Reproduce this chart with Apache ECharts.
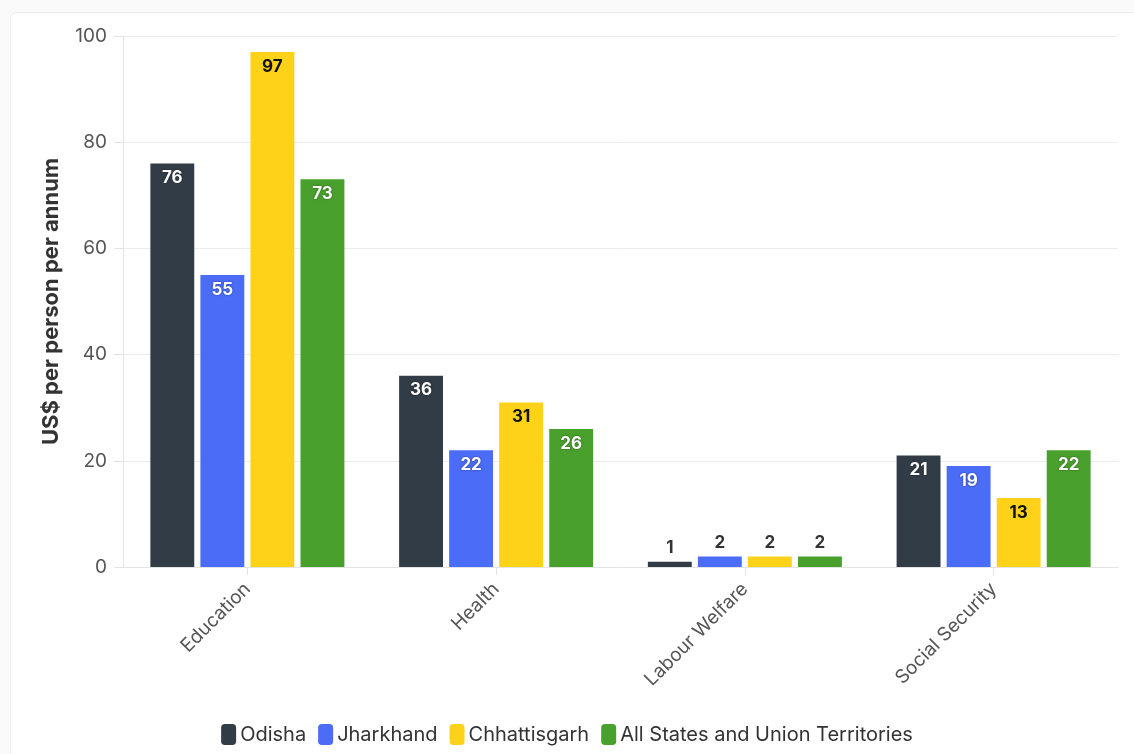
<!DOCTYPE html>
<html>
<head>
<meta charset="utf-8">
<script src="https://cdn.jsdelivr.net/npm/echarts@6/dist/echarts.min.js"></script>
<style>
  html, body { margin: 0; padding: 0; background: #fafafa; }
  #card { position: absolute; left: 10px; top: 12px; width: 1130px; height: 750px;
          background: #fff; border: 1px solid #eeeeee; border-radius: 6px; box-sizing: border-box; }
  #chart { position: absolute; left: 0; top: 0; width: 1134px; height: 754px; }
</style>
</head>
<body>
<div id="card"></div>
<div id="chart"></div>
<script>
// Spending categories and per-capita values (US$ per person per annum)
const categories = ['Education', 'Health', 'Labour Welfare', 'Social Security'];
const odisha = [76, 36, 1, 21];
const jharkhand = [55, 22, 2, 19];
const chhattisgarh = [97, 31, 2, 13];
const allStates = [73, 26, 2, 22];
const yTicks = [0, 20, 40, 60, 80, 100];

const seriesDefs = [
  { name: 'Odisha', values: odisha, color: '#323c46', labelColor: '#ffffff' },
  { name: 'Jharkhand', values: jharkhand, color: '#4a6cf7', labelColor: '#ffffff' },
  { name: 'Chhattisgarh', values: chhattisgarh, color: '#ffd21a', labelColor: '#111111' },
  { name: 'All States and Union Territories', values: allStates, color: '#4aa02c', labelColor: '#ffffff' }
];

const FONT = 'Inter, "Noto Sans", sans-serif';

const chart = echarts.init(document.getElementById('chart'), null, { renderer: 'canvas' });

// Values too short to hold their label get it drawn above the bar instead
const series = seriesDefs.map(s => ({
  name: s.name,
  type: 'bar',
  barGap: '14%',
  barCategoryGap: '22%',
  itemStyle: { color: s.color },
  data: s.values.map(v => {
    const small = v < 5;
    return {
      value: v,
      label: {
        show: true,
        position: small ? 'top' : 'insideTop',
        distance: small ? 5 : 6,
        color: small ? '#333333' : s.labelColor,
        fontFamily: FONT,
        fontWeight: 'bold',
        fontSize: 17,
        textShadowColor: (!small && s.labelColor === '#ffffff') ? 'rgba(0,0,0,0.5)' : 'transparent',
        textShadowBlur: 2
      }
    };
  })
}));

chart.setOption({
  animation: false,
  grid: { left: 123, right: 16, top: 36, bottom: 187, containLabel: false },
  legend: {
    bottom: 4,
    left: 'center',
    itemWidth: 15,
    itemHeight: 21,
    itemGap: 12,
    icon: 'roundRect',
    textStyle: { fontFamily: FONT, fontSize: 20, color: '#333333', padding: [0, 0, 0, -1] },
    data: seriesDefs.map(s => s.name)
  },
  xAxis: {
    type: 'category',
    data: categories,
    axisTick: { show: true, alignWithLabel: true, length: 8, lineStyle: { color: '#e3e3e3' } },
    axisLine: { show: true, lineStyle: { color: '#e3e3e3' } },
    axisLabel: { rotate: 45, fontFamily: FONT, fontSize: 19, color: '#555555', margin: 19 }
  },
  yAxis: {
    type: 'value',
    min: yTicks[0],
    max: yTicks[yTicks.length - 1],
    interval: yTicks[1] - yTicks[0],
    name: 'US$ per person per annum',
    nameLocation: 'middle',
    nameRotate: 90,
    nameGap: 61,
    nameTextStyle: { fontFamily: FONT, fontSize: 22, fontWeight: 'bold', color: '#333333' },
    axisLine: { show: true, lineStyle: { color: '#e3e3e3' } },
    axisTick: { show: true, length: 9, lineStyle: { color: '#e3e3e3' } },
    axisLabel: { fontFamily: FONT, fontSize: 19, color: '#555555', margin: 16 },
    splitLine: { lineStyle: { color: '#ececec' } }
  },
  series: series
});
</script>
</body>
</html>
